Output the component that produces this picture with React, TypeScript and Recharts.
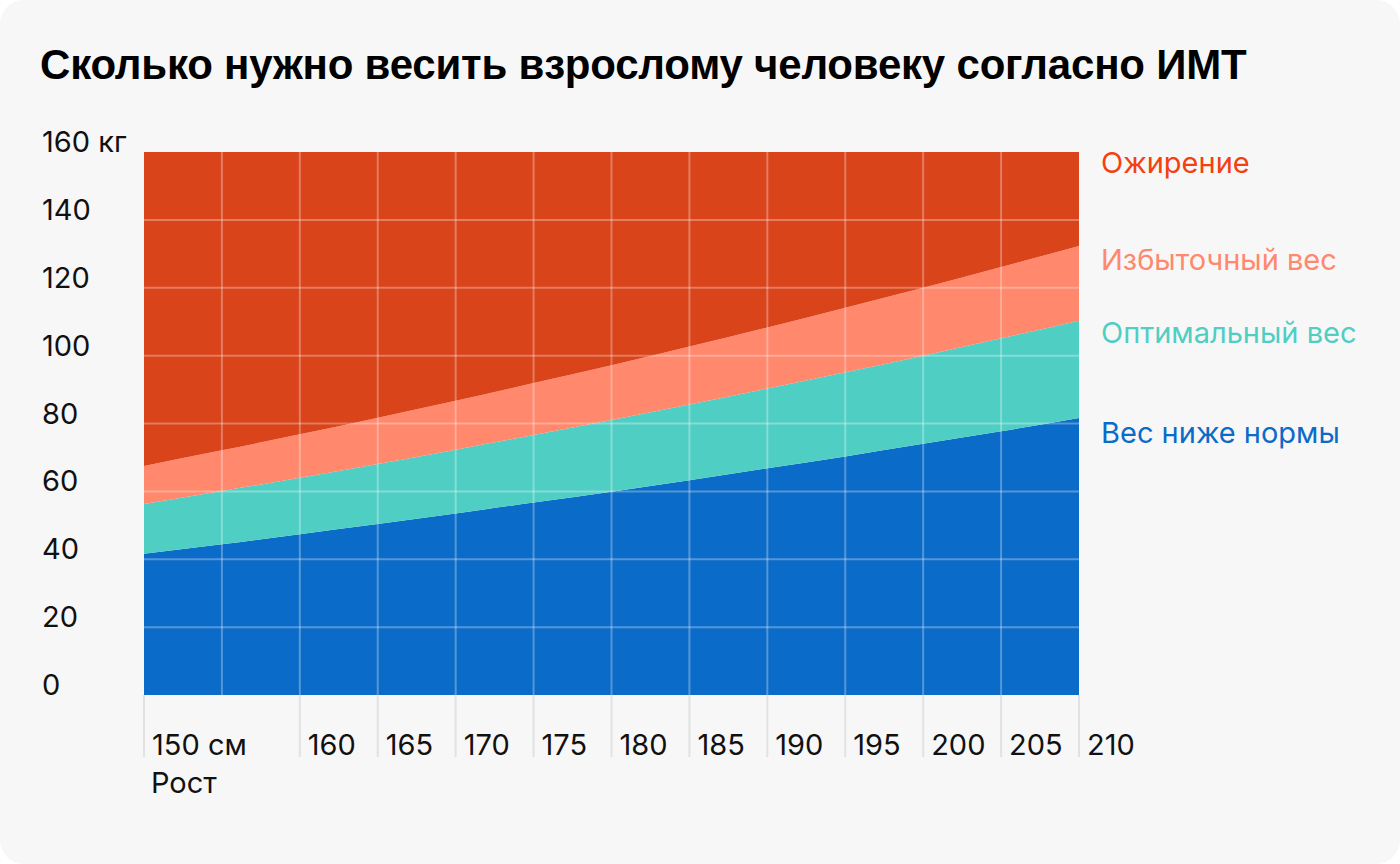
import { AreaChart, Area, XAxis, YAxis, ReferenceLine } from "recharts"

// heights, cm
const HEIGHTS = [150, 155, 160, 165, 170, 175, 180, 185, 190, 195, 200, 205, 210]
// upper weight bound of each zone, kg
const UNDERWEIGHT_TOP = [41.6, 44.4, 47.4, 50.4, 53.5, 56.7, 59.9, 63.3, 66.8, 70.3, 74.0, 77.7, 81.6]
const OPTIMAL_TOP = [56.3, 60.1, 64.0, 68.1, 72.3, 76.6, 81.0, 85.6, 90.3, 95.1, 100.0, 105.1, 110.3]
const OVERWEIGHT_TOP = [67.5, 72.1, 76.8, 81.7, 86.7, 91.9, 97.2, 102.7, 108.3, 114.1, 120.0, 126.1, 132.3]
const Y_MAX = 160

const Y_TICKS = [0, 20, 40, 60, 80, 100, 120, 140, 160]
const X_TICKS = [150, 155, 160, 165, 170, 175, 180, 185, 190, 195, 200, 205, 210]
const X_LABELED = [150, 160, 165, 170, 175, 180, 185, 190, 195, 200, 205, 210]

const ZONES = [
  { key: "under", name: "Вес ниже нормы", fill: "#0b6bc8", text: "#0b6bc8", top: 415 },
  { key: "optimal", name: "Оптимальный вес", fill: "#4fcec4", text: "#4fcec4", top: 315 },
  { key: "over", name: "Избыточный вес", fill: "#ff886d", text: "#ff886d", top: 242 },
  { key: "obese", name: "Ожирение", fill: "#d9441b", text: "#f5400f", top: 145 },
]

const data = HEIGHTS.map((h, i) => ({
  h,
  under: UNDERWEIGHT_TOP[i],
  optimal: OPTIMAL_TOP[i] - UNDERWEIGHT_TOP[i],
  over: OVERWEIGHT_TOP[i] - OPTIMAL_TOP[i],
  obese: Y_MAX - OVERWEIGHT_TOP[i],
}))

const FONT = "Inter, 'Noto Sans', sans-serif"

const YTick = ({ y, payload }: any) => (
  <text x={42} y={y} fill="#111" fontSize={29} fontFamily={FONT}>
    {payload.value === 160 ? "160 кг" : payload.value}
  </text>
)

const XTick = ({ x, y, payload }: any) => {
  const v = payload.value
  return (
    <g>
      {v !== 155 && <line x1={x} x2={x} y1={y - 8} y2={y + 54} stroke="#e2e2e2" strokeWidth={2} />}
      {X_LABELED.includes(v) && (
        <text x={x + 8} y={y + 52} fill="#111" fontSize={29} fontFamily={FONT}>
          {v === 150 ? "150 см" : v}
        </text>
      )}
    </g>
  )
}

export default function App() {
  return (
    <div style={{
      position: "absolute", left: 0, top: 0, width: 1400, height: 864,
      background: "#f7f7f7", borderRadius: 24, overflow: "hidden", fontFamily: FONT
    }}>
      <div style={{
        position: "absolute", left: 40, top: 41, fontSize: 42, fontWeight: 700,
        fontFamily: "'Liberation Sans', Arial, sans-serif", color: "#000", letterSpacing: "-0.2px"
      }}>
        Сколько нужно весить взрослому человеку согласно ИМТ
      </div>

      <AreaChart width={1400} height={864} data={data}
        margin={{ top: 152, right: 321, left: 44, bottom: 109 }}>
        <XAxis dataKey="h" type="number" domain={[150, 210]} ticks={X_TICKS}
          axisLine={false} tickLine={false} height={60} interval={0} tick={<XTick />} />
        <YAxis type="number" domain={[0, Y_MAX]} ticks={Y_TICKS} width={100}
          axisLine={false} tickLine={false} interval={0} tick={<YTick />} />

        {ZONES.map(z => (
          <Area key={z.key} dataKey={z.key} stackId="bmi" type="monotone"
            fill={z.fill} fillOpacity={1} stroke="none" isAnimationActive={false} />
        ))}

        {Y_TICKS.filter(t => t > 0 && t < Y_MAX).map(t => (
          <ReferenceLine key={"y" + t} y={t} stroke="#ffffff" strokeOpacity={0.3} strokeWidth={2} />
        ))}
        {X_TICKS.filter(t => t > 150 && t < 210).map(t => (
          <ReferenceLine key={"x" + t} x={t} stroke="#ffffff" strokeOpacity={0.3} strokeWidth={2} />
        ))}
      </AreaChart>

      {ZONES.map(z => (
        <div key={z.key} style={{
          position: "absolute", left: 1101, top: z.top, fontSize: 29, color: z.text
        }}>
          {z.name}
        </div>
      ))}

      <div style={{ position: "absolute", left: 151, top: 765, fontSize: 29, color: "#111" }}>
        Рост
      </div>
    </div>
  )
}
